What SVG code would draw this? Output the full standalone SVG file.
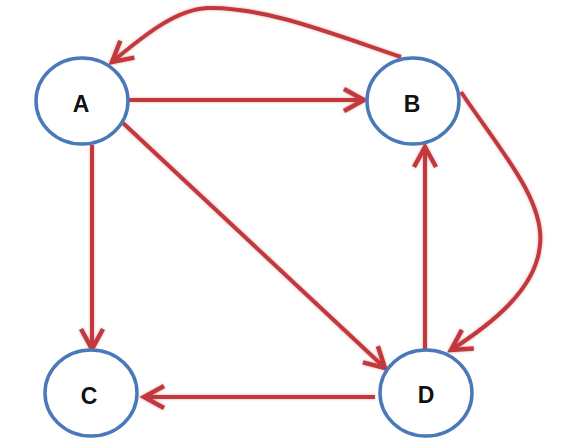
<svg xmlns="http://www.w3.org/2000/svg" width="568" height="446" viewBox="0 0 568 446">
<style>
.node{fill:#ffffff;stroke:#4a79b9;stroke-width:3.5}
.lbl{font-family:"Liberation Sans",Arial,sans-serif;font-weight:bold;font-size:23px;fill:#111111;text-anchor:middle}
.edge{fill:none;stroke:#c2383d;stroke-width:4;stroke-linecap:butt}
</style>
<defs>
<filter id="glow" filterUnits="userSpaceOnUse" x="0" y="0" width="568" height="446">
<feGaussianBlur in="SourceGraphic" stdDeviation="1.6" result="b"/>
<feColorMatrix in="b" type="matrix" values="1 0 0 0 0.1  0 1 0 0 0.2  0 0 1 0 0.2  0 0 0 0.7 0" result="h"/>
<feMerge><feMergeNode in="h"/><feMergeNode in="SourceGraphic"/></feMerge>
</filter>
<marker id="arr" markerUnits="userSpaceOnUse" markerWidth="30" markerHeight="30" viewBox="-25 -15 30 30" refX="0" refY="0" orient="auto" overflow="visible">
<path d="M -20 -11 L 0 0 L -20 11" fill="none" stroke="#c2383d" stroke-width="4.5" stroke-linejoin="miter"/>
</marker>
</defs>
<rect width="568" height="446" fill="#ffffff"/>
<g id="connectors" filter="url(#glow)">
<path class="edge" d="M 129 100 L 364 100" marker-end="url(#arr)"/>
<path class="edge" d="M 92 145 L 92 349" marker-end="url(#arr)"/>
<path class="edge" d="M 123 123 L 385 368" marker-end="url(#arr)"/>
<path class="edge" d="M 425 350 L 425 147" marker-end="url(#arr)"/>
<path class="edge" d="M 375 397 L 144 397" marker-end="url(#arr)"/>
<path class="edge" d="M 401 57 C 330 33 265 7 208 8 C 178 9 148 32 112 62" marker-end="url(#arr)"/>
<path class="edge" d="M 461 92 C 500 150 545 200 540 245 C 536 290 490 325 451 350" marker-end="url(#arr)"/>
</g>
<g id="node-A">
<ellipse class="node" cx="82" cy="101" rx="46" ry="43"/>
<text class="lbl" x="81" y="112">A</text>
</g>
<g id="node-B">
<ellipse class="node" cx="413" cy="101" rx="46" ry="43"/>
<text class="lbl" x="412" y="112">B</text>
</g>
<g id="node-C">
<ellipse class="node" cx="91" cy="393" rx="46" ry="43"/>
<text class="lbl" x="89" y="404">C</text>
</g>
<g id="node-D">
<ellipse class="node" cx="426" cy="393" rx="46" ry="43"/>
<text class="lbl" x="426" y="403">D</text>
</g>
</svg>
